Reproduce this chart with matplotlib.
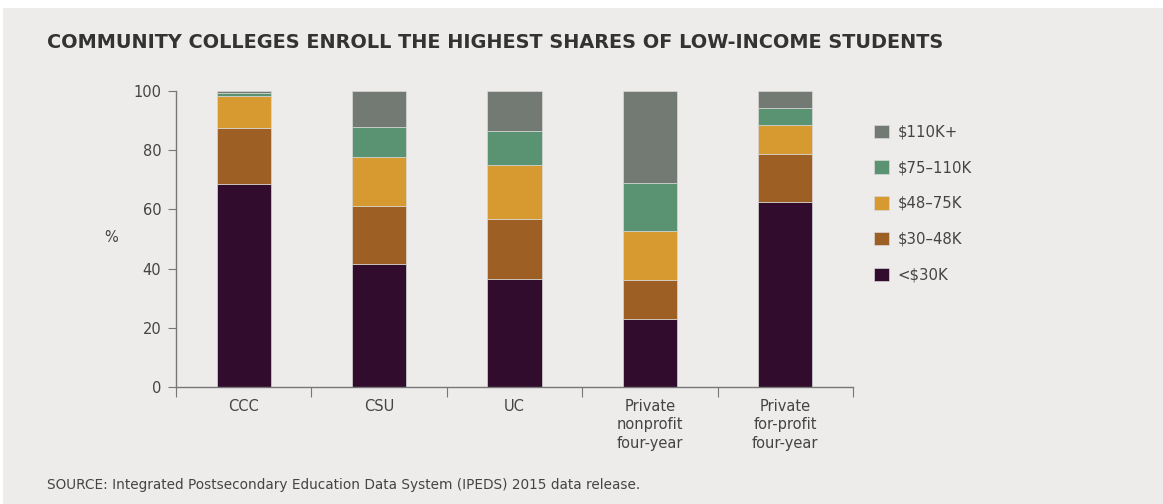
import matplotlib
matplotlib.use("Agg")
import matplotlib.pyplot as plt
from matplotlib.patches import Rectangle
import numpy as np

categories = ["CCC", "CSU", "UC", "Private\nnonprofit\nfour-year", "Private\nfor-profit\nfour-year"]
series_names = ["<$30K", "$30–48K", "$48–75K", "$75–110K", "$110K+"]
lt30 = [68.7, 41.5, 36.4, 22.9, 62.6]
r30_48 = [18.7, 19.6, 20.3, 13.2, 16.2]
r48_75 = [10.9, 16.7, 18.3, 16.6, 9.8]
r75_110 = [1.1, 10.0, 11.4, 16.1, 5.7]
gt110 = [0.6, 12.2, 13.6, 31.2, 5.7]
colors = ["#310c2c", "#9e5f24", "#d79a30", "#5a9371", "#737a73"]
yticks = [0, 20, 40, 60, 80, 100]

plt.rcParams['font.family'] = ['DejaVu Sans']
BG = "#edecea"
TXT = "#444444"

fig = plt.figure(figsize=(11.63, 5.04), dpi=100, facecolor="white")
fig.patches.append(Rectangle((3/1163, 0), 1, (504-8)/504, transform=fig.transFigure,
                             facecolor=BG, edgecolor="none", zorder=-10))

ax = fig.add_axes([176/1163, (504-387)/504, (853-176)/1163, (387-91)/504])
ax.set_facecolor("none")

x = np.arange(len(categories))
bottom = np.zeros(len(categories))
data = [lt30, r30_48, r48_75, r75_110, gt110]
bars = []
for vals, name, c in zip(data, series_names, colors):
    b = ax.bar(x, vals, 0.4, bottom=bottom, color=c, label=name,
               edgecolor="#d8d8d8", linewidth=0.5)
    bars.append(b)
    bottom += np.array(vals)

ax.set_xlim(-0.5, len(categories) - 0.5)
ax.set_ylim(0, 100)
ax.set_yticks(yticks)
ax.set_yticklabels([str(v) for v in yticks], fontsize=10.5, color=TXT)
ax.tick_params(axis='y', length=6, color="#777777", pad=4.5)
ax.set_xticks(np.arange(-0.5, len(categories)), labels=[""] * (len(categories) + 1))
ax.tick_params(axis='x', which='major', length=7, color="#777777")
ax.set_xticks(x, minor=True)
ax.set_xticklabels(categories, minor=True, fontsize=10.5, color=TXT, linespacing=1.3)
ax.tick_params(axis='x', which='minor', length=0, pad=8.5)

for s in ["top", "right"]:
    ax.spines[s].set_visible(False)
for s in ["left", "bottom"]:
    ax.spines[s].set_color("#777777")
    ax.spines[s].set_linewidth(1)

fig.text(111/1163, (504-238)/504, "%", fontsize=10.5, color=TXT, ha="center", va="center")

handles = [b[0] for b in bars][::-1]
labels = series_names[::-1]
leg = fig.legend(handles, labels, loc="upper left", bbox_to_anchor=(861/1163, (504-111)/504),
                 frameon=False, fontsize=10.7, labelspacing=1.4, handlelength=1.0,
                 handleheight=1.0, handletextpad=0.55, labelcolor=TXT)
for h in leg.legend_handles:
    h.set_edgecolor("#d8d8d8")

fig.text(47/1163, (504-43)/504, "COMMUNITY COLLEGES ENROLL THE HIGHEST SHARES OF LOW-INCOME STUDENTS",
         fontsize=13.9, fontweight="bold", color="#333333", va="center", ha="left")
fig.text(47/1163, (504-485)/504, "SOURCE: Integrated Postsecondary Education Data System (IPEDS) 2015 data release.",
         fontsize=9.8, color="#444444", va="center", ha="left")

fig.savefig("out.png", dpi=100, facecolor=fig.get_facecolor())
